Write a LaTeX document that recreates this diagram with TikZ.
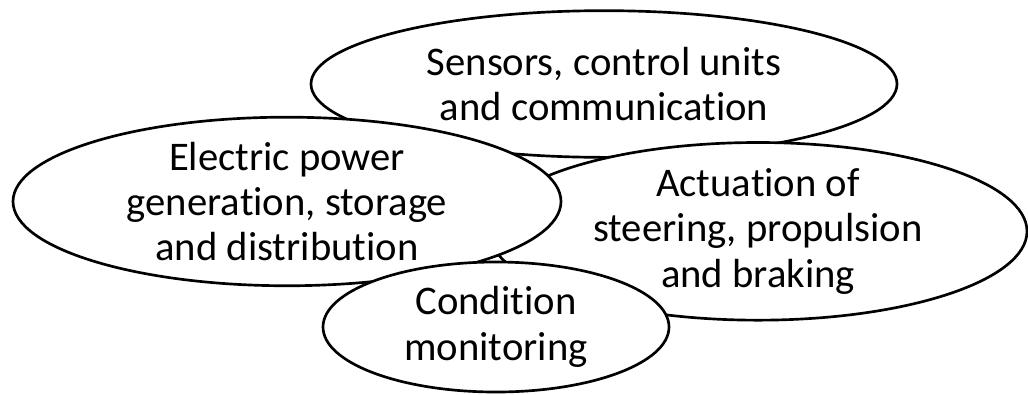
\documentclass[tikz,border=0pt]{standalone}
\usepackage{fontspec}
\setmainfont[Ligatures={NoCommon}]{Carlito}
\usetikzlibrary{shapes.geometric}
\tikzset{
  area/.style={ellipse, draw=black, line width=2pt, fill=white, inner sep=0pt,
    align=center, font=\fontsize{30.5}{34}\selectfont}
}
\begin{document}
\begin{tikzpicture}[x=1pt,y=1pt]
  \useasboundingbox (0,0) rectangle (771,-295.5);
  % back to front: each ellipse is filled so it hides the ones beneath
  \node[area, minimum width=439.5pt, minimum height=110pt] (sensors) at (453,-63)
    {Sensors, control units\\and communication};
  \node[area, minimum width=403.5pt, minimum height=110pt] (actuation) at (568.5,-173.5)
    {Actuation of\\steering, propulsion\\and braking};
  \node[area, minimum width=411pt, minimum height=122.25pt] (power) at (215.25,-151.1)
    {Electric power\\generation, storage\\and distribution};
  \node[area, minimum width=259.5pt, minimum height=97.5pt] (condition) at (372,-245.25)
    {Condition\\monitoring};
\end{tikzpicture}
\end{document}
